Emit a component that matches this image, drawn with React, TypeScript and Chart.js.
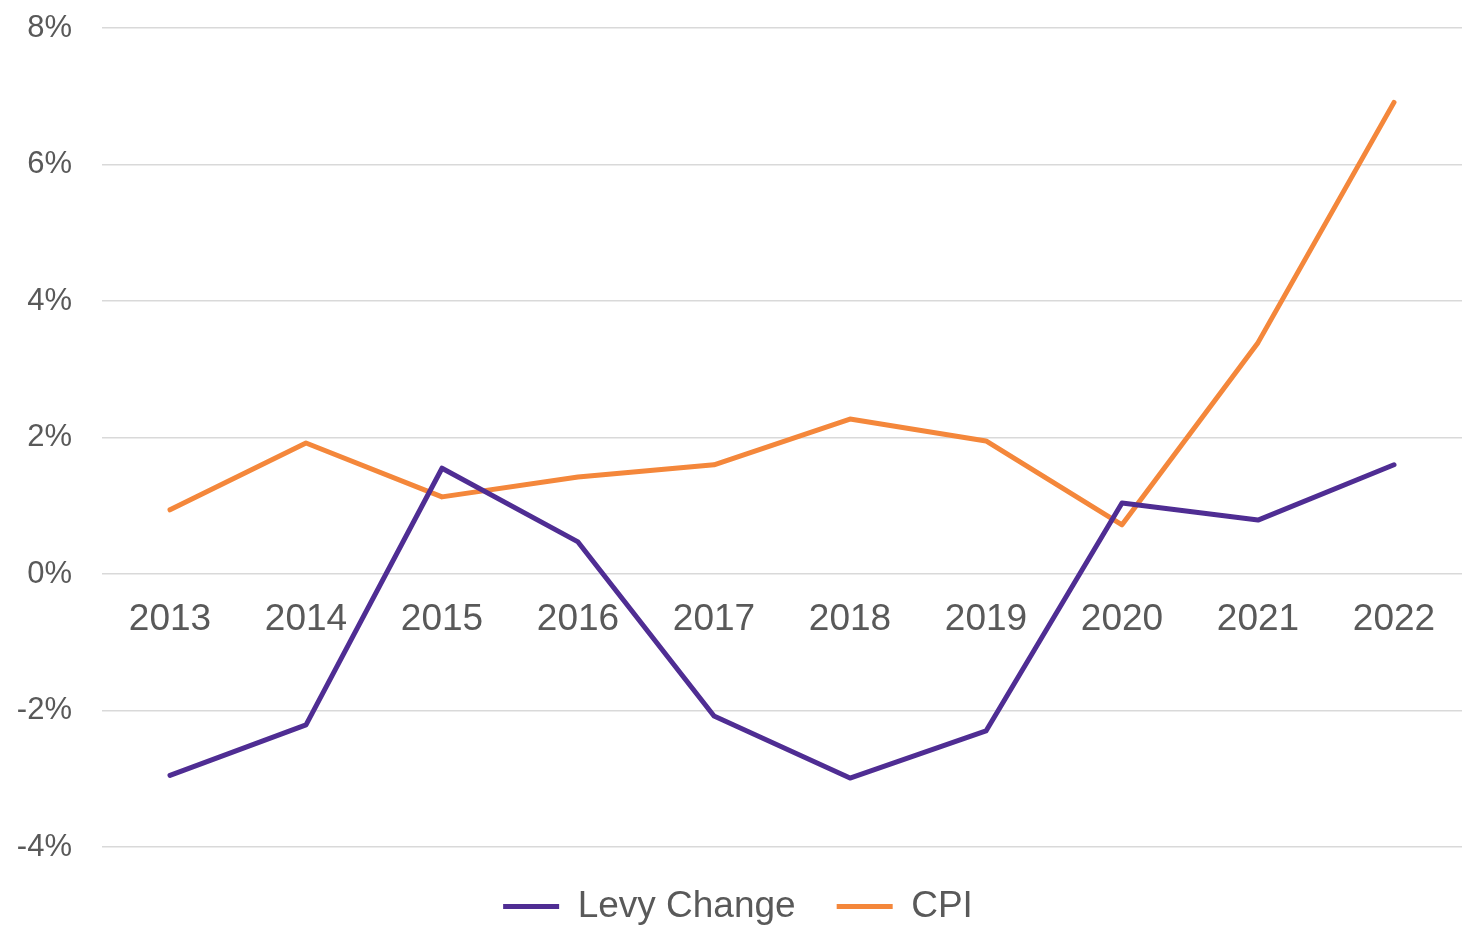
import React, { useEffect, useRef } from "react";
import { Chart, registerables } from "chart.js";

Chart.register(...registerables);

const categories = ["2013", "2014", "2015", "2016", "2017", "2018", "2019", "2020", "2021", "2022"];
const levyChange = [-2.95, -2.21, 1.55, 0.47, -2.08, -2.99, -2.3, 1.04, 0.79, 1.6];
const cpi = [0.94, 1.92, 1.13, 1.42, 1.6, 2.27, 1.95, 0.72, 3.39, 6.91];
const seriesNames = ["Levy Change", "CPI"];
const yMin = -4;
const yMax = 8;
const yStep = 2;

export default function App() {
  const ref = useRef<HTMLCanvasElement | null>(null);
  useEffect(() => {
    if (!ref.current) return;
    const font = "'Liberation Sans', Arial, sans-serif";
    const chart = new Chart(ref.current, {
      type: "line",
      data: {
        labels: categories,
        datasets: [
          {
            label: seriesNames[0],
            data: levyChange,
            borderColor: "#4F2D93",
            backgroundColor: "#4F2D93",
            borderWidth: 5,
            pointRadius: 0,
            tension: 0,
            borderCapStyle: "round",
            borderJoinStyle: "round",
          },
          {
            label: seriesNames[1],
            data: cpi,
            borderColor: "#F4873B",
            backgroundColor: "#F4873B",
            borderWidth: 5,
            pointRadius: 0,
            tension: 0,
            borderCapStyle: "round",
            borderJoinStyle: "round",
          },
        ],
      },
      options: {
        responsive: false,
        animation: false,
        layout: { padding: { top: 28, left: 14, right: 11, bottom: 2 } },
        plugins: {
          tooltip: { enabled: false },
          legend: {
            position: "bottom",
            labels: {
              usePointStyle: true,
              pointStyle: "line",
              pointStyleWidth: 56,
              color: "#595959",
              font: { family: font, size: 37 },
              padding: 41,
            },
          },
        },
        scales: {
          x: {
            position: { y: 0 },
            offset: true,
            grid: { display: false, drawTicks: false },
            border: { display: false },
            ticks: {
              color: "#595959",
              font: { family: font, size: 37 },
              padding: 24,
              maxRotation: 0,
              autoSkip: false,
            },
          },
          y: {
            min: yMin,
            max: yMax,
            grid: { color: "#D9D9D9", lineWidth: 1.5, drawTicks: false },
            border: { display: false },
            ticks: {
              stepSize: yStep,
              color: "#595959",
              font: { family: font, size: 31 },
              padding: 30,
              callback: (v: any) => v + "%",
            },
            afterFit: (scale: any) => {
              scale.width = 88;
              scale.paddingTop = 0;
              scale.paddingBottom = 0;
            },
          },
        },
      },
    });
    return () => chart.destroy();
  }, []);
  return (
    <div style={{ position: "absolute", left: 0, top: 0, width: 1473, height: 937, background: "#fff" }}>
      <canvas ref={ref} width={1473} height={937} style={{ display: "block" }} />
    </div>
  );
}
